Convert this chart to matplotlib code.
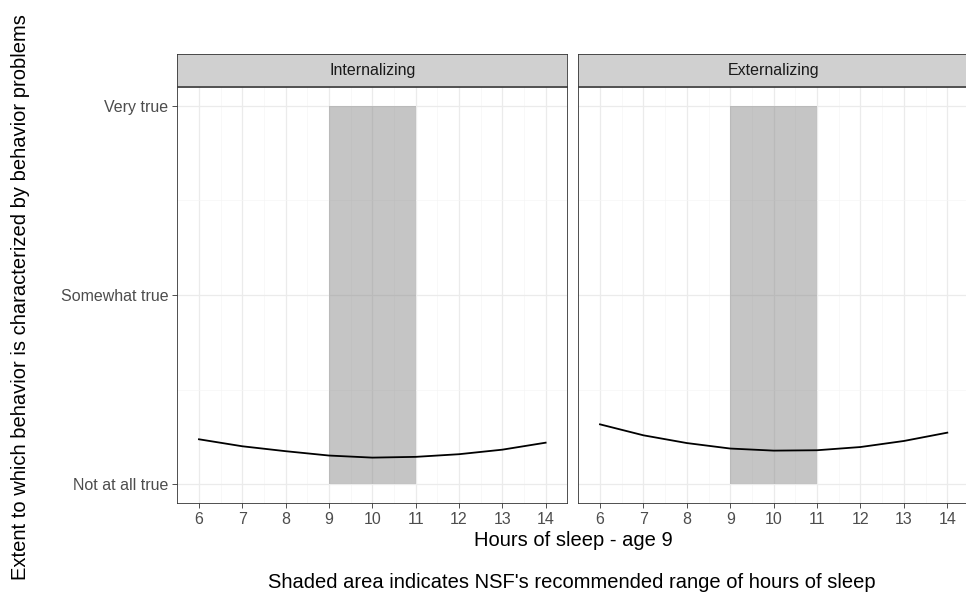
import numpy as np
import matplotlib
matplotlib.use("Agg")
import matplotlib.pyplot as plt
from matplotlib.patches import Rectangle

plt.rcParams["font.family"] = ["Liberation Sans", "DejaVu Sans"]

# ---- data ----
hours = [6, 7, 8, 9, 10, 11, 12, 13, 14]
internalizing = [0.237, 0.200, 0.174, 0.151, 0.140, 0.144, 0.158, 0.182, 0.219]
externalizing = [0.316, 0.258, 0.217, 0.188, 0.177, 0.179, 0.196, 0.228, 0.272]
panels = ["Internalizing", "Externalizing"]
series = [internalizing, externalizing]
y_levels = [0, 1, 2]
y_labels = ["Not at all true", "Somewhat true", "Very true"]
nsf_range = (9, 11)

W, H = 966, 602
fig = plt.figure(figsize=(W / 100, H / 100), dpi=100)

def box(x0, y0, x1, y1):
    # pixel box (top-left origin) -> figure fraction
    return [x0 / W, 1 - y1 / H, (x1 - x0) / W, (y1 - y0) / H]

# right facet runs slightly past the right edge, as in the original
panel_px = [(177.3, 567.3), (578.3, 969)]
for i, ((xa, xb), name, vals) in enumerate(zip(panel_px, panels, series)):
    ax = fig.add_axes(box(xa, 87, xb, 503))
    ax.set_xlim(5.6, 14.4)
    ax.set_ylim(-0.1, 2.1)
    ax.set_axisbelow(True)
    ax.set_xticks(hours)
    ax.set_xticks(np.arange(5.5, 14.6, 1.0), minor=True)
    ax.set_yticks(y_levels)
    ax.set_yticks([0.5, 1.5], minor=True)
    ax.grid(which="major", color="#ebebeb", lw=0.9)
    ax.grid(which="minor", color="#f5f5f5", lw=0.5)
    ax.add_patch(Rectangle((nsf_range[0], y_levels[0]), nsf_range[1] - nsf_range[0],
                           y_levels[-1] - y_levels[0], facecolor="#7f7f7f",
                           alpha=0.45, lw=0, zorder=1))
    ax.plot(hours, vals, color="black", lw=1.3, zorder=3)
    for s in ax.spines.values():
        s.set_color("#333333"); s.set_linewidth(0.6)
    ax.tick_params(which="major", length=3.5, width=0.6, color="#333333",
                   labelsize=11.5, labelcolor="#4d4d4d", pad=3)
    ax.tick_params(which="minor", length=0)
    if i == 0:
        ax.set_yticklabels(y_labels)
    else:
        ax.set_yticklabels([])
        ax.tick_params(axis="y", length=0)
    # facet strip
    sx = fig.add_axes(box(xa, 54, xb, 86))
    sx.set_xticks([]); sx.set_yticks([])
    sx.set_facecolor("#d0d0d0")
    for s in sx.spines.values():
        s.set_color("#333333"); s.set_linewidth(0.6)
    sx.text(0.5, 0.5, name, ha="center", va="center", fontsize=11.5,
            color="#1a1a1a", transform=sx.transAxes)

fig.text(573 / W, 1 - 541 / H, "Hours of sleep - age 9", ha="center", va="center",
         fontsize=14.5)
fig.text(572 / W, 1 - 582 / H,
         "Shaded area indicates NSF's recommended range of hours of sleep",
         ha="center", va="center", fontsize=14.5)
fig.text(21 / W, 1 - 297 / H,
         "Extent to which behavior is characterized by behavior problems",
         ha="center", va="center", rotation=90, fontsize=14.5)

fig.savefig("out.png", dpi=100)
